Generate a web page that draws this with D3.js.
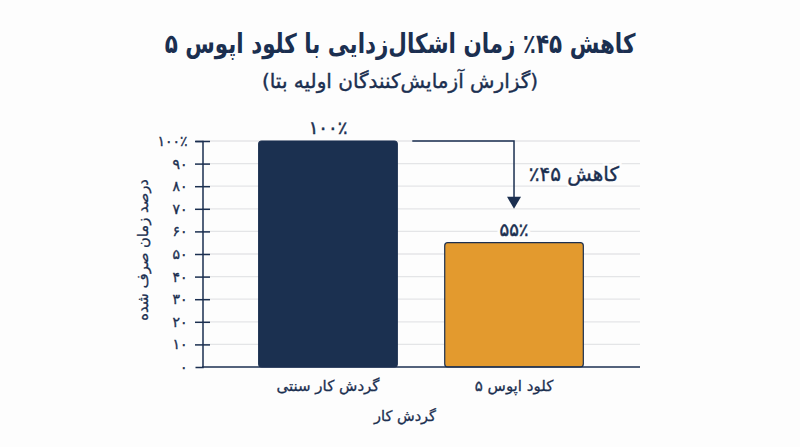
<!DOCTYPE html>
<html lang="fa">
<head>
<meta charset="utf-8">
<script src="https://cdn.jsdelivr.net/npm/d3@7"></script>
<style>
  html, body { margin: 0; padding: 0; background: #fdfdfd; }
  svg { display: block; }
  text { font-family: "DejaVu Sans", sans-serif; fill: #1b2f50; }
</style>
</head>
<body>
<svg id="chart" width="800" height="447"></svg>
<script>
const categories = ['گردش کار سنتی', 'کلود اپوس ۵']
const percentValues = [100, 55]
const barLabels = ['۱۰۰٪', '۵۵٪']
const tickValues = [0, 10, 20, 30, 40, 50, 60, 70, 80, 90, 100]
const tickLabels = ['۰', '۱۰', '۲۰', '۳۰', '۴۰', '۵۰', '۶۰', '۷۰', '۸۰', '۹۰', '۱۰۰٪']
const barColors = ['#1b3050', '#e39a2e']

const titleText = 'کاهش ۴۵٪ زمان اشکال‌زدایی با کلود اپوس ۵'
const subtitleText = '(گزارش آزمایش‌کنندگان اولیه بتا)'
const yAxisTitle = 'درصد زمان صرف شده'
const xAxisTitle = 'گردش کار'
const reductionLabel = 'کاهش ۴۵٪'

const navy = '#1b2f50'
const paper = '#fdfdfd'
const svg = d3.select('#chart')

const x = d3.scaleBand().domain(categories).range([202.5, 639.5]).paddingInner(0.255).paddingOuter(0.302)
const y = d3.scaleLinear().domain([0, 100]).range([367, 141])

// DejaVu is lighter than the original face, a thin stroke thickens it
const thicken = (sel, w) => sel.attr('stroke', navy).attr('stroke-width', w)

// gridlines sit behind everything
svg.append('g').selectAll('line').data(tickValues.slice(1)).join('line')
  .attr('x1', 202).attr('x2', 640)
  .attr('y1', d => y(d)).attr('y2', d => y(d))
  .attr('stroke', '#e4e5e7').attr('stroke-width', 1.3)

const yAxis = svg.append('g').attr('transform', 'translate(202.5,0)')
  .call(d3.axisLeft(y).tickValues(tickValues).tickSize(7).tickPadding(8).tickFormat((d, i) => tickLabels[i]))
yAxis.select('.domain').attr('stroke', navy).attr('stroke-width', 1.5)
yAxis.selectAll('.tick line').attr('x2', 7.5).attr('x1', -7.5).attr('stroke', navy).attr('stroke-width', 1.5)
  .filter(d => d === 0).remove()
yAxis.selectAll('.tick text').attr('font-size', 14).attr('font-family', null).attr('direction', 'ltr')
  .call(thicken, 0.35)

svg.selectAll('.bar').data(categories).join('rect')
  .attr('class', 'bar')
  .attr('x', d => x(d))
  .attr('width', x.bandwidth())
  .attr('y', (d, i) => y(percentValues[i]))
  .attr('height', (d, i) => y(0) - y(percentValues[i]))
  .attr('rx', 3)
  .attr('fill', (d, i) => barColors[i])
  .attr('stroke', navy).attr('stroke-width', 1.2)

// baseline
svg.append('line').attr('x1', 202).attr('x2', 640).attr('y1', y(0)).attr('y2', y(0))
  .attr('stroke', navy).attr('stroke-width', 1.5)

// halo first so it breaks the gridline, label on top
const barLabel = (cls) => svg.selectAll('.' + cls).data(categories).join('text')
  .attr('class', cls)
  .attr('x', d => x(d) + x.bandwidth() / 2)
  .attr('y', (d, i) => y(percentValues[i]) - 7)
  .attr('text-anchor', 'middle')
  .attr('font-size', 18)
  .text((d, i) => barLabels[i])
barLabel('bar-halo').attr('stroke', paper).attr('stroke-width', 6).style('fill', paper)
barLabel('bar-label').call(thicken, 0.5)

// reduction arrow, from the top of the first bar down towards the second
const arrowX = x(categories[1]) + x.bandwidth() / 2
const arrowStart = x(categories[0]) + x.bandwidth() + 15
const arrowTip = y(70)
svg.append('path')
  .attr('d', `M${arrowStart},${y(100)}H${arrowX}V${arrowTip - 10}`)
  .attr('fill', 'none').attr('stroke', navy).attr('stroke-width', 1.5)
svg.append('path')
  .attr('d', `M${arrowX - 7},${arrowTip - 12}H${arrowX + 7}L${arrowX},${arrowTip}Z`)
  .attr('fill', navy)
// rtl so the percent sign lands on the left; start anchor is then the right edge
const reduction = (sel) => sel.attr('x', 619).attr('y', 181).attr('direction', 'rtl').attr('text-anchor', 'start')
  .attr('font-size', 20).text(reductionLabel)
svg.append('text').call(reduction).attr('stroke', paper).attr('stroke-width', 5).style('fill', paper)
svg.append('text').call(reduction).call(thicken, 0.4)

svg.selectAll('.cat-label').data(categories).join('text')
  .attr('class', 'cat-label')
  .attr('x', d => x(d) + x.bandwidth() / 2)
  .attr('y', 391)
  .attr('text-anchor', 'middle')
  .attr('font-size', 15)
  .call(thicken, 0.3)
  .text(d => d)

svg.append('text').attr('x', 405).attr('y', 421).attr('text-anchor', 'middle').attr('font-size', 14.5)
  .call(thicken, 0.3).text(xAxisTitle)
svg.append('text').attr('transform', 'translate(148,250) rotate(-90)').attr('text-anchor', 'middle')
  .attr('font-size', 14.7).call(thicken, 0.3).text(yAxisTitle)

svg.append('text').attr('transform', 'translate(400,53) scale(0.795,1)').attr('text-anchor', 'middle')
  .attr('font-size', 27).attr('font-weight', 700).text(titleText)
svg.append('text').attr('x', 400).attr('y', 88).attr('text-anchor', 'middle')
  .attr('font-size', 20).call(thicken, 0.4).text(subtitleText)
</script>
</body>
</html>
